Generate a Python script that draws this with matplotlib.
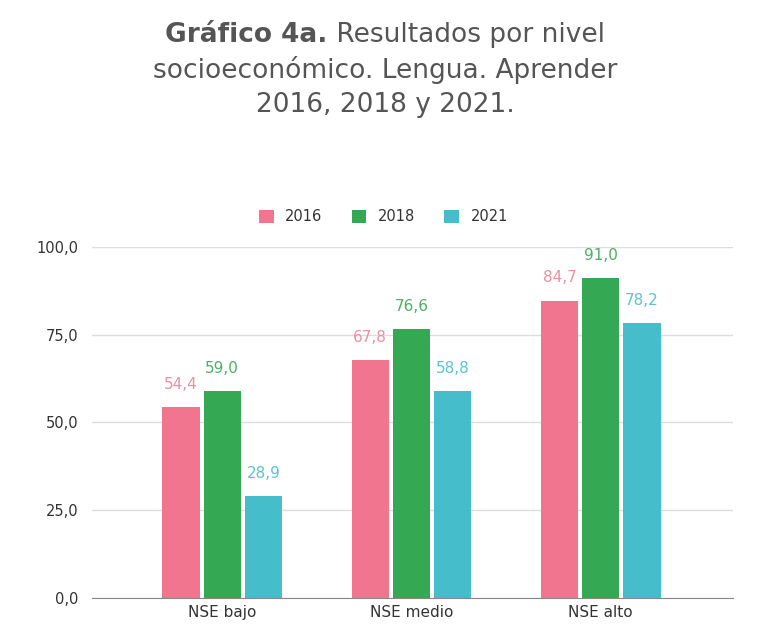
import matplotlib
matplotlib.use("Agg")
import matplotlib.pyplot as plt
import numpy as np

plt.rcParams["font.family"] = ["DejaVu Sans"]

categories = ["NSE bajo", "NSE medio", "NSE alto"]
years = ["2016", "2018", "2021"]
v2016 = [54.4, 67.8, 84.7]
v2018 = [59.0, 76.6, 91.0]
v2021 = [28.9, 58.8, 78.2]
yticks = [0, 25, 50, 75, 100]

bar_colors = ["#F2758F", "#34A853", "#45BDCA"]
label_colors = ["#EE8FA3", "#4DAF62", "#5CC3CF"]

fig = plt.figure(figsize=(7.67, 6.28), dpi=100)
ax = fig.add_axes([0.12, 0.048, 0.836, 0.559])

x = np.arange(len(categories))
width = 0.196
step = 0.218
series = [v2016, v2018, v2021]
for i, vals in enumerate(series):
    pos = x + (i - 1) * step
    ax.bar(pos, vals, width, color=bar_colors[i], label=years[i], zorder=3)
    for px, v in zip(pos, vals):
        ax.text(px, v + 4.3, f"{v:.1f}".replace(".", ","), ha="center", va="bottom",
                fontsize=11, color=label_colors[i])

ax.set_ylim(0, 100)
ax.set_xlim(-0.688, 2.70)
ax.set_yticks(yticks)
ax.set_yticklabels([f"{t:.1f}".replace(".", ",") for t in yticks])
ax.set_xticks(x)
ax.set_xticklabels(categories)
ax.tick_params(axis="both", length=0, labelsize=10.5, colors="#333333")
ax.tick_params(axis="x", labelsize=11)
ax.tick_params(axis="y", pad=10)
ax.tick_params(axis="x", pad=5)
ax.grid(axis="y", color="#DDDDDD", linewidth=1, zorder=0)
for s in ["top", "right", "left"]:
    ax.spines[s].set_visible(False)
ax.spines["bottom"].set_color("#888888")
ax.spines["bottom"].set_zorder(4)

leg = fig.legend(loc="center", bbox_to_anchor=(0.5, 0.655), ncol=3, frameon=False,
                 fontsize=10.5, handlelength=1.0, handleheight=1.0, handletextpad=0.8,
                 columnspacing=2.0)
for t in leg.get_texts():
    t.set_color("#333333")

# title with a bold lead
title_color = "#555555"
tfs = 19
fig.canvas.draw()
r = fig.canvas.get_renderer()
t1 = fig.text(0, 0.945, "Gráfico 4a.", fontsize=tfs, fontweight="bold", color=title_color,
              ha="left", va="center")
t2 = fig.text(0, 0.945, " Resultados por nivel", fontsize=tfs, color=title_color,
              ha="left", va="center")
w1 = t1.get_window_extent(r).width / fig.bbox.width
w2 = t2.get_window_extent(r).width / fig.bbox.width
start = 0.502 - (w1 + w2) / 2
t1.set_x(start)
t2.set_x(start + w1)
fig.text(0.502, 0.889, "socioeconómico. Lengua. Aprender", fontsize=tfs, color=title_color,
         ha="center", va="center")
fig.text(0.502, 0.833, "2016, 2018 y 2021.", fontsize=tfs, color=title_color,
         ha="center", va="center")

fig.savefig("out.png", dpi=100)
